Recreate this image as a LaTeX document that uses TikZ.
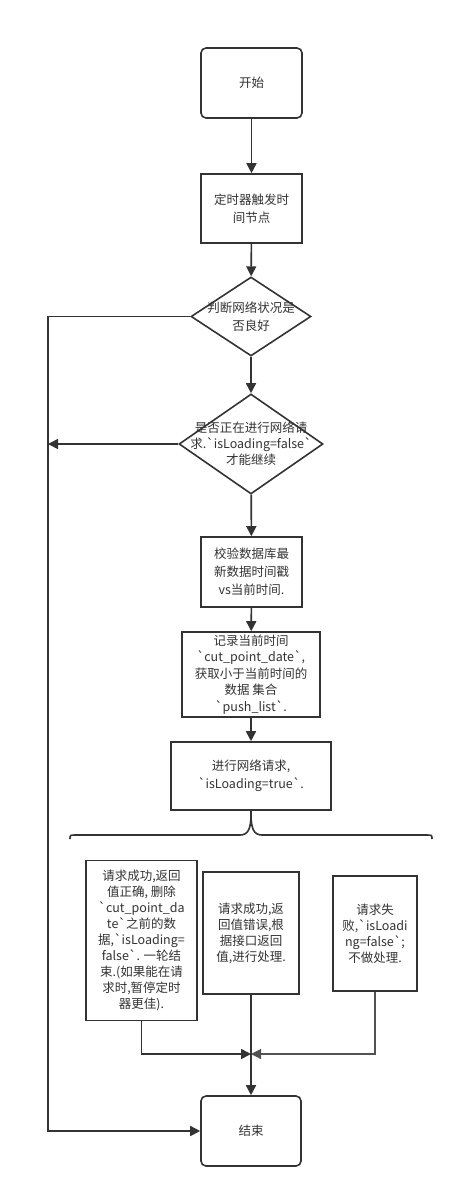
\documentclass[tikz,border=0pt]{standalone}
\usepackage{fontspec}
\newfontfamily\cjk{Noto Sans CJK SC}
\usetikzlibrary{arrows.meta,shapes.geometric}
\definecolor{linegray}{HTML}{333333}
\begin{document}
\begin{tikzpicture}[x=1pt,y=-1pt,
    every node/.style={font=\cjk\fontsize{12.5}{18}\selectfont, text=linegray, align=center},
    tight/.style={font=\cjk\fontsize{12.5}{16}\selectfont},
    box/.style={draw=linegray, line width=1.6pt, inner sep=0pt},
    startbox/.style={box, rounded corners=5pt},
    decision/.style={diamond, draw=linegray, line width=1.6pt, inner sep=0pt},
    line/.style={draw=linegray, line width=1.6pt},
    flow/.style={line, -{Triangle[length=10pt,width=10pt]}}]
    \useasboundingbox (0,0) rectangle (463,1198);
    % Main column
    \node[startbox, minimum width=101pt, minimum height=70pt] (start) at (251.5,83) {开始};
    \node[box, minimum width=101pt, minimum height=69pt] (timer) at (251.5,208.5) {定时器触发时\\间节点};
    \node[decision, minimum width=120pt, minimum height=79pt] (net) at (251,316.5) {};
    \node at (net) {判断网络状况是\\否良好};
    \node[decision, minimum width=144pt, minimum height=100pt] (loading) at (251,444) {};
    \node[tight] at (loading) {是否正在进行网络请\\求.`isLoading=false`\\才能继续};
    \node[box, minimum width=101pt, minimum height=70pt] (check) at (251.5,572) {校验数据库最\\新数据时间戳\\vs当前时间.};
    \node[box, font=\cjk\fontsize{12.5}{16.5}\selectfont, minimum width=138pt, minimum height=85pt] (record) at (251,674.5) {记录当前时间\\`cut\_point\_date`,\\获取小于当前时间的\\数据 集合\\`push\_list`.};
    \node[box, minimum width=160pt, minimum height=68pt] (request) at (251,776) {进行网络请求,\\`isLoading=true`.};
    % Three results
    \node[box, tight, minimum width=111pt, minimum height=160pt] (ok) at (141.5,940.5) {请求成功,返回\\值正确, 删除\\`cut\_point\_da\\te`之前的数\\据,`isLoading=\\false`. 一轮结\\束.(如果能在请\\求时,暂停定时\\器更佳).};
    \node[box, tight, minimum width=96pt, minimum height=122pt] (err) at (251,933) {请求成功,返\\回值错误,根\\据接口返回\\值,进行处理.};
    \node[box, tight, minimum width=84pt, minimum height=115pt] (fail) at (375,933.5) {请求失\\败,`isLoadi\\ng=false`;\\不做处理.};
    \node[startbox, minimum width=100pt, minimum height=70pt] (end) at (251,1131) {结束};
    % Helper points
    \coordinate (rail) at (48,316.5);
    \coordinate (tip) at (251,814);
    \coordinate (join) at (251,1054);
    % Connectors
    \draw[flow] (start) -- (timer);
    \draw[flow] (timer) -- (net);
    \draw[flow] (net) -- (loading);
    \draw[flow] (loading) -- (check);
    \draw[flow] (check) -- (record);
    \draw[flow] (record) -- (request);
    \draw[flow] (net.west) -- (rail) |- (end.west);
    \draw[flow] (loading.west) -- (loading.west -| rail);
    \draw[line] (request.south) -- (tip);
    % Brace
    \draw[line] (70,839) .. controls (70,835) .. (76,835) -- (240,835)
        .. controls (248,835) and (251,829) .. (tip)
        .. controls (251,829) and (254,835) .. (262,835) -- (426,835)
        .. controls (432,835) .. (432,839);
    \draw[flow] (ok.south) |- (join);
    \draw[flow, draw=linegray!85, line width=1.2pt] (fail.south) |- (join);
    \draw[flow] (err.south) -- (end.north);
\end{tikzpicture}
\end{document}
